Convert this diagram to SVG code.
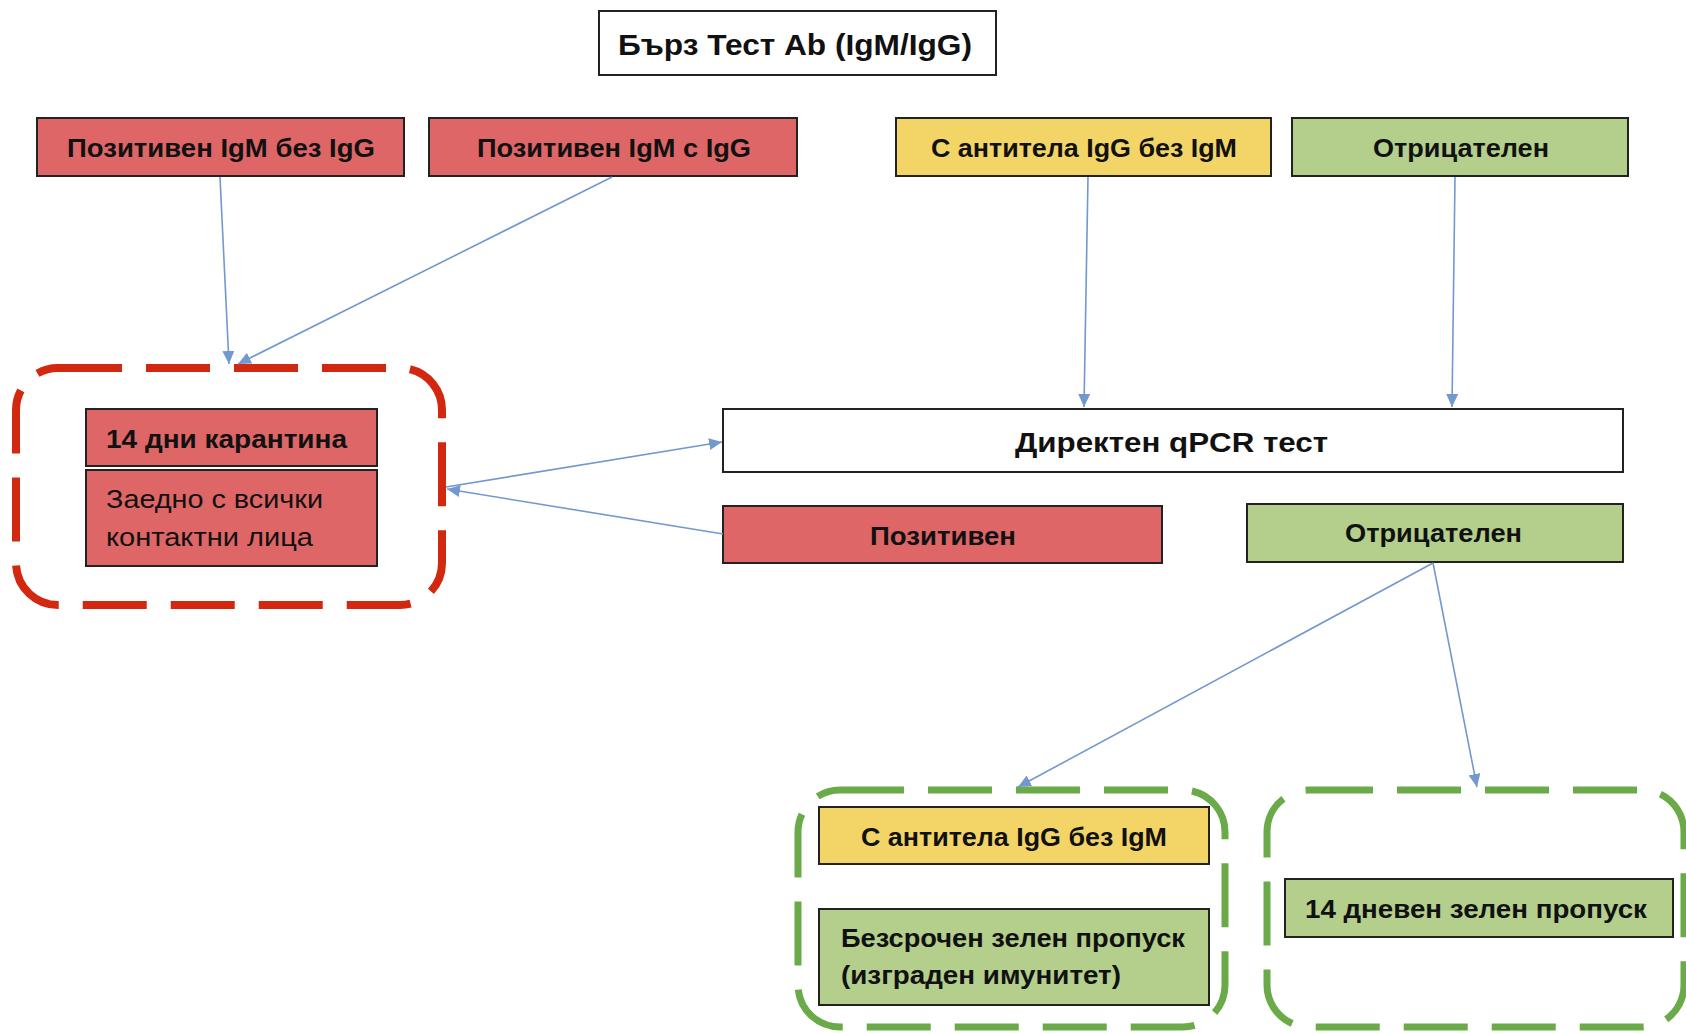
<svg xmlns="http://www.w3.org/2000/svg" width="1686" height="1033" viewBox="0 0 1686 1033">
<style>
.t{font-family:"Liberation Sans",Arial,sans-serif;font-weight:bold;fill:#111;}
.r{font-family:"Liberation Sans",Arial,sans-serif;font-weight:normal;fill:#111;}
.box{stroke:#222;stroke-width:2;}
.red{fill:#DE6666;}
.yel{fill:#F3D567;}
.grn{fill:#B3CF8B;}
.wht{fill:#FFFFFF;}
.dr{fill:none;stroke:#D1280F;stroke-width:8;stroke-dasharray:64 24;}
.dg{fill:none;stroke:#6BAA48;stroke-width:7;stroke-dasharray:64 24;}
.c{fill:none;stroke:#7398D0;stroke-width:1.6;marker-end:url(#ah);}
</style>
<defs>
<marker id="ah" markerUnits="userSpaceOnUse" markerWidth="14" markerHeight="12" refX="13" refY="6" orient="auto">
<path d="M0,0 L13,6 L0,12 Z" fill="#7398D0"/>
</marker>
</defs>
<rect width="1686" height="1033" fill="#FFFFFF"/>

<g id="title">
<rect class="box wht" x="599" y="11" width="397" height="64"/>
<text class="t" x="618" y="55" font-size="30" textLength="354" lengthAdjust="spacingAndGlyphs">Бърз Тест Ab (IgM/IgG)</text>
</g>

<g id="pos-igm-no-igg">
<rect class="box red" x="37" y="118" width="367" height="58"/>
<text class="t" x="67" y="157" font-size="26" textLength="308" lengthAdjust="spacingAndGlyphs">Позитивен IgM без IgG</text>
</g>

<g id="pos-igm-igg">
<rect class="box red" x="429" y="118" width="368" height="58"/>
<text class="t" x="477" y="157" font-size="26" textLength="274" lengthAdjust="spacingAndGlyphs">Позитивен IgM с IgG</text>
</g>

<g id="igg-no-igm">
<rect class="box yel" x="896" y="118" width="375" height="58"/>
<text class="t" x="931" y="157" font-size="26" textLength="306" lengthAdjust="spacingAndGlyphs">С антитела IgG без IgM</text>
</g>

<g id="negative-top">
<rect class="box grn" x="1292" y="118" width="336" height="58"/>
<text class="t" x="1373" y="157" font-size="26" textLength="176" lengthAdjust="spacingAndGlyphs">Отрицателен</text>
</g>

<g id="quarantine-group">
<rect class="dr" x="16" y="368" width="426" height="237" rx="42" ry="42"/>
<g id="quarantine">
<rect class="box red" x="86" y="409" width="291" height="57"/>
<text class="t" x="106" y="448" font-size="26" textLength="241" lengthAdjust="spacingAndGlyphs">14 дни карантина</text>
</g>
<g id="contacts">
<rect class="box red" x="86" y="470" width="291" height="96"/>
<text class="r" x="106" y="508" font-size="26" textLength="217" lengthAdjust="spacingAndGlyphs">Заедно с всички</text>
<text class="r" x="106" y="546" font-size="26" textLength="207" lengthAdjust="spacingAndGlyphs">контактни лица</text>
</g>
</g>

<g id="qpcr">
<rect class="box wht" x="723" y="409" width="900" height="63"/>
<text class="t" x="1015" y="452" font-size="27" textLength="313" lengthAdjust="spacingAndGlyphs">Директен qPCR тест</text>
</g>

<g id="qpcr-positive">
<rect class="box red" x="723" y="506" width="439" height="57"/>
<text class="t" x="870" y="545" font-size="26" textLength="146" lengthAdjust="spacingAndGlyphs">Позитивен</text>
</g>

<g id="qpcr-negative">
<rect class="box grn" x="1247" y="504" width="376" height="58"/>
<text class="t" x="1345" y="542" font-size="26" textLength="177" lengthAdjust="spacingAndGlyphs">Отрицателен</text>
</g>

<g id="immunity-group">
<rect class="dg" x="798" y="790" width="427" height="237" rx="42" ry="42"/>
<g id="igg-no-igm-bottom">
<rect class="box yel" x="819" y="807" width="390" height="57"/>
<text class="t" x="861" y="846" font-size="26" textLength="306" lengthAdjust="spacingAndGlyphs">С антитела IgG без IgM</text>
</g>
<g id="permanent-pass">
<rect class="box grn" x="819" y="909" width="390" height="96"/>
<text class="t" x="841" y="947" font-size="26" textLength="344" lengthAdjust="spacingAndGlyphs">Безсрочен зелен пропуск</text>
<text class="t" x="841" y="984" font-size="26" textLength="280" lengthAdjust="spacingAndGlyphs">(изграден имунитет)</text>
</g>
</g>

<g id="pass14-group">
<rect class="dg" x="1267" y="790" width="417" height="237" rx="42" ry="42"/>
<g id="pass14">
<rect class="box grn" x="1285" y="879" width="388" height="58"/>
<text class="t" x="1305" y="918" font-size="26" textLength="342" lengthAdjust="spacingAndGlyphs">14 дневен зелен пропуск</text>
</g>
</g>

<g id="connectors">
<line class="c" x1="220" y1="177" x2="229" y2="364"/>
<line class="c" x1="612" y1="177" x2="238" y2="364"/>
<line class="c" x1="1088" y1="177" x2="1084" y2="407"/>
<line class="c" x1="1455" y1="177" x2="1452" y2="407"/>
<line class="c" x1="446" y1="487" x2="722" y2="442"/>
<line class="c" x1="723" y1="534" x2="447" y2="489"/>
<line class="c" x1="1433" y1="563" x2="1018" y2="787"/>
<line class="c" x1="1433" y1="563" x2="1477" y2="787"/>
</g>
</svg>
